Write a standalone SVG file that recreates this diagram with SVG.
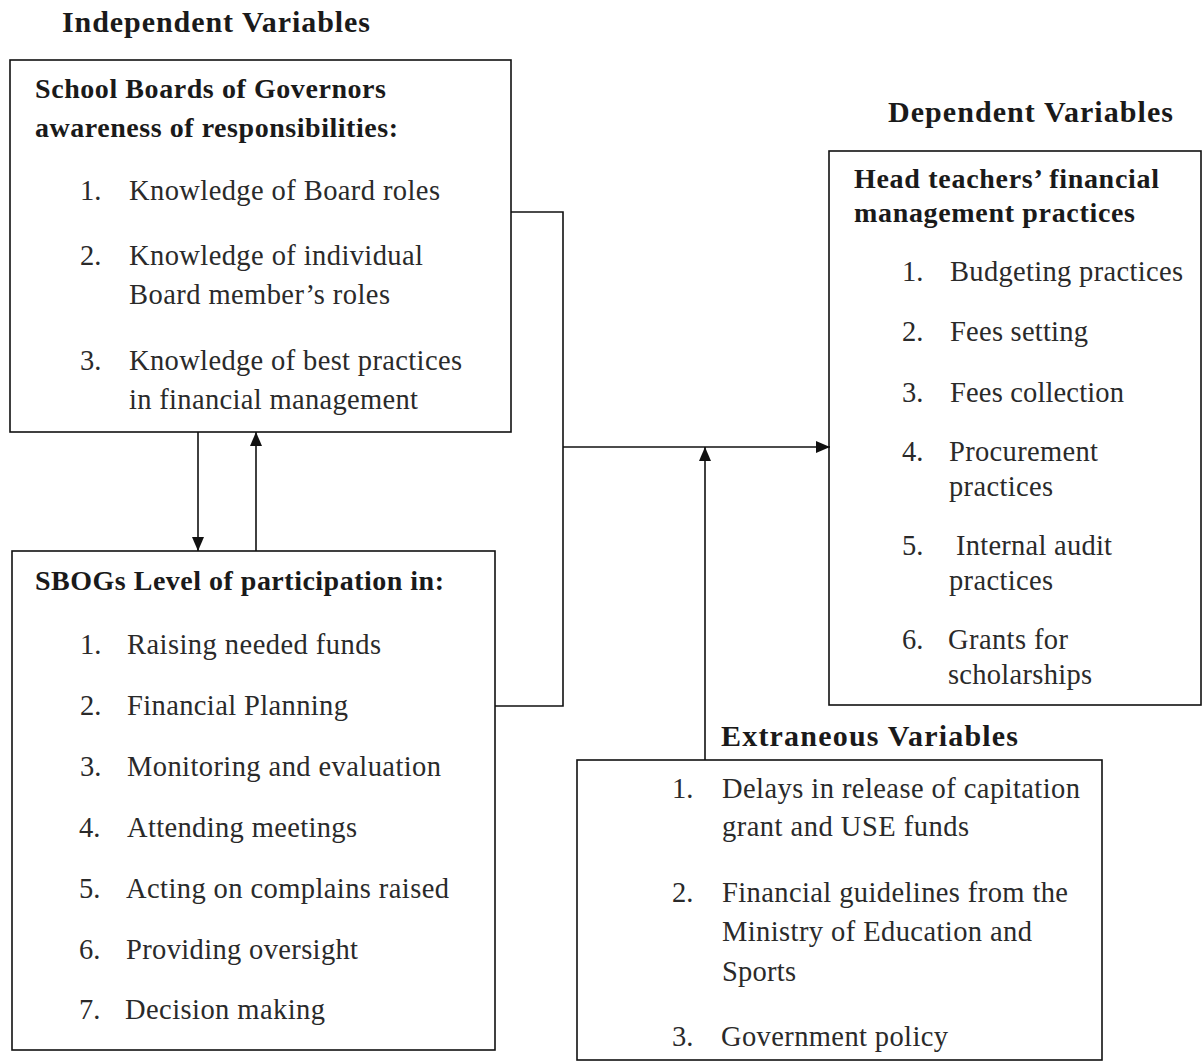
<svg xmlns="http://www.w3.org/2000/svg" width="1202" height="1062" viewBox="0 0 1202 1062">
<style>
.box{fill:none;stroke:#111;stroke-width:1.6}
.ln{fill:none;stroke:#111;stroke-width:1.6}
text{font-family:"Liberation Serif","Times New Roman",serif;fill:#1a1a1a}
.h{font-weight:bold;font-size:28px}
.t{font-weight:bold;font-size:30px}
.i{font-size:28.5px;fill:#2a2a2a}
</style>
<defs>
<marker id="ah" viewBox="0 0 14 12" refX="14" refY="6" markerWidth="14" markerHeight="12" markerUnits="userSpaceOnUse" orient="auto">
<path d="M0,0 L14,6 L0,12 Z" fill="#111"/>
</marker>
</defs>
<rect width="1202" height="1062" fill="#fff"/>
<text class="t" x="62" y="32" textLength="308" lengthAdjust="spacing">Independent Variables</text>
<text class="t" x="888" y="122" textLength="285" lengthAdjust="spacing">Dependent Variables</text>
<text class="t" x="721" y="746" textLength="297" lengthAdjust="spacing">Extraneous Variables</text>

<g id="awareness">
<rect class="box" x="10" y="60" width="501" height="372"/>
<text class="h" x="35" y="98" textLength="351" lengthAdjust="spacing">School Boards of Governors</text>
<text class="h" x="35" y="137" textLength="363" lengthAdjust="spacing">awareness of responsibilities:</text>
<text class="i" x="80" y="200">1.</text>
<text class="i" x="129" y="200" textLength="311" lengthAdjust="spacing">Knowledge of Board roles</text>
<text class="i" x="80" y="265">2.</text>
<text class="i" x="129" y="265" textLength="294" lengthAdjust="spacing">Knowledge of individual</text>
<text class="i" x="129" y="304" textLength="261" lengthAdjust="spacing">Board member’s roles</text>
<text class="i" x="80" y="370">3.</text>
<text class="i" x="129" y="370" textLength="333" lengthAdjust="spacing">Knowledge of best practices</text>
<text class="i" x="129" y="409" textLength="289" lengthAdjust="spacing">in financial management</text>
</g>

<g id="participation">
<rect class="box" x="12" y="551" width="483" height="499"/>
<text class="h" x="35" y="590" textLength="409" lengthAdjust="spacing">SBOGs Level of participation in:</text>
<text class="i" x="80" y="654">1.</text>
<text class="i" x="127" y="654" textLength="254" lengthAdjust="spacing">Raising needed funds</text>
<text class="i" x="80" y="715">2.</text>
<text class="i" x="127" y="715" textLength="221" lengthAdjust="spacing">Financial Planning</text>
<text class="i" x="80" y="776">3.</text>
<text class="i" x="127" y="776" textLength="314" lengthAdjust="spacing">Monitoring and evaluation</text>
<text class="i" x="79" y="837">4.</text>
<text class="i" x="127" y="837" textLength="230" lengthAdjust="spacing">Attending meetings</text>
<text class="i" x="79" y="898">5.</text>
<text class="i" x="126" y="898" textLength="323" lengthAdjust="spacing">Acting on complains raised</text>
<text class="i" x="79" y="959">6.</text>
<text class="i" x="126" y="959" textLength="232" lengthAdjust="spacing">Providing oversight</text>
<text class="i" x="79" y="1019">7.</text>
<text class="i" x="125" y="1019" textLength="200" lengthAdjust="spacing">Decision making</text>
</g>

<g id="dependent">
<rect class="box" x="829" y="151" width="372" height="554"/>
<text class="h" x="854" y="188" textLength="305" lengthAdjust="spacing">Head teachers’ financial</text>
<text class="h" x="854" y="222" textLength="281" lengthAdjust="spacing">management practices</text>
<text class="i" x="902" y="281">1.</text>
<text class="i" x="950" y="281" textLength="233" lengthAdjust="spacing">Budgeting practices</text>
<text class="i" x="902" y="341">2.</text>
<text class="i" x="950" y="341" textLength="138" lengthAdjust="spacing">Fees setting</text>
<text class="i" x="902" y="402">3.</text>
<text class="i" x="950" y="402" textLength="174" lengthAdjust="spacing">Fees collection</text>
<text class="i" x="902" y="461">4.</text>
<text class="i" x="949" y="461" textLength="149" lengthAdjust="spacing">Procurement</text>
<text class="i" x="949" y="496" textLength="104" lengthAdjust="spacing">practices</text>
<text class="i" x="902" y="555">5.</text>
<text class="i" x="956" y="555" textLength="156" lengthAdjust="spacing">Internal audit</text>
<text class="i" x="949" y="590" textLength="104" lengthAdjust="spacing">practices</text>
<text class="i" x="902" y="649">6.</text>
<text class="i" x="948" y="649" textLength="120" lengthAdjust="spacing">Grants for</text>
<text class="i" x="948" y="684" textLength="144" lengthAdjust="spacing">scholarships</text>
</g>

<g id="extraneous">
<rect class="box" x="577" y="760" width="525" height="300"/>
<text class="i" x="672" y="798">1.</text>
<text class="i" x="722" y="798" textLength="358" lengthAdjust="spacing">Delays in release of capitation</text>
<text class="i" x="722" y="836" textLength="247" lengthAdjust="spacing">grant and USE funds</text>
<text class="i" x="672" y="902">2.</text>
<text class="i" x="722" y="902" textLength="346" lengthAdjust="spacing">Financial guidelines from the</text>
<text class="i" x="722" y="941" textLength="310" lengthAdjust="spacing">Ministry of Education and</text>
<text class="i" x="722" y="981" textLength="74" lengthAdjust="spacing">Sports</text>
<text class="i" x="672" y="1046">3.</text>
<text class="i" x="721" y="1046" textLength="227" lengthAdjust="spacing">Government policy</text>
</g>

<g id="connectors">
<polyline class="ln" points="511,212 563,212 563,706 495,706"/>
<line class="ln" x1="563" y1="447" x2="830" y2="447" marker-end="url(#ah)"/>
<line class="ln" x1="705" y1="760" x2="705" y2="447" marker-end="url(#ah)"/>
<line class="ln" x1="198" y1="432" x2="198" y2="551" marker-end="url(#ah)"/>
<line class="ln" x1="256" y1="551" x2="256" y2="432" marker-end="url(#ah)"/>
</g>
</svg>
